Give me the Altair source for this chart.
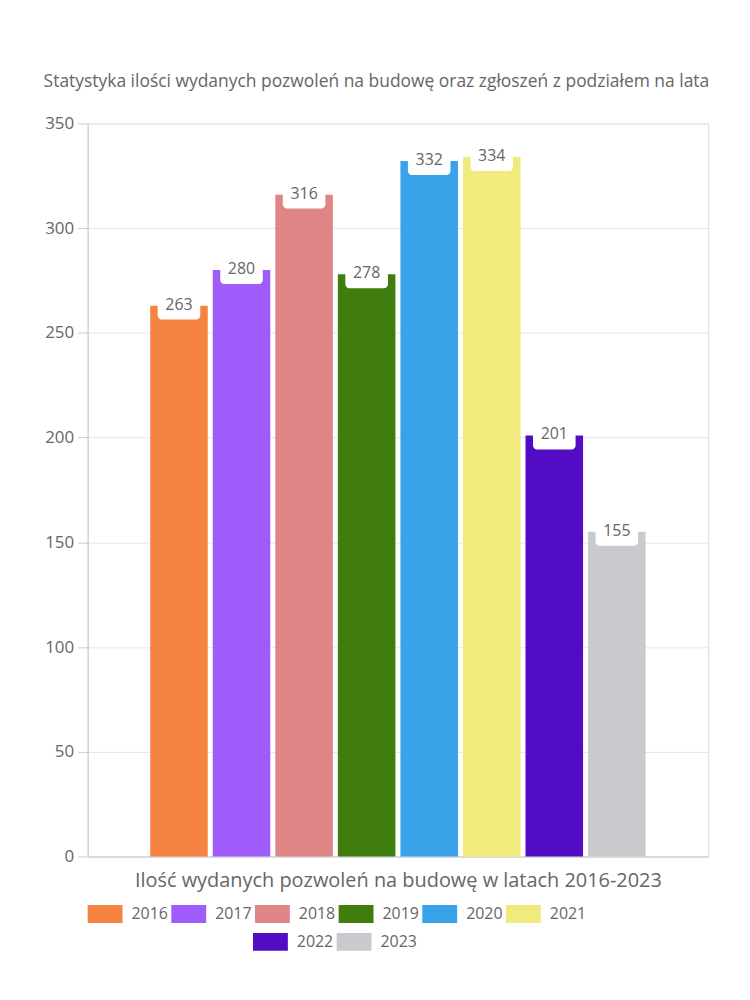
import altair as alt
import pandas as pd

years = ["2016", "2017", "2018", "2019", "2020", "2021", "2022", "2023"]
values = [263, 280, 316, 278, 332, 334, 201, 155]
colors = ["#F58442", "#A05BFB", "#E08585", "#3F7D0F", "#38A3E8", "#F0EB7C", "#520CC4", "#C9CACE"]
y_ticks = [0, 50, 100, 150, 200, 250, 300, 350]

title_text = "Statystyka ilości wydanych pozwoleń na budowę oraz zgłoszeń z podziałem na lata"
x_title = "Ilość wydanych pozwoleń na budowę w latach 2016-2023"

FONT = "Open Sans"
GREY = "#666666"

df = pd.DataFrame({"year": years, "value": values})

base = alt.Chart(df).encode(
    x=alt.X(
        "year:N",
        scale=alt.Scale(domain=years, paddingInner=0.08, paddingOuter=1.0),
        axis=alt.Axis(
            labels=False, ticks=False, title=x_title, titleFontSize=20,
            titleFontWeight="normal", titleColor=GREY, titlePadding=14,
            domainColor="#cccccc", grid=False, titleFont=FONT,
        ),
    ),
    y=alt.Y(
        "value:Q",
        scale=alt.Scale(domain=[0, 350], nice=False),
        axis=alt.Axis(
            values=y_ticks, title=None, labelFontSize=17, labelColor=GREY,
            labelFont=FONT, tickColor="#cccccc", tickSize=10, labelPadding=4,
            domainColor="#cccccc", gridColor="#e6e6e6",
        ),
    ),
)

rect_path = "M-1,-0.514H1V0.514H-1Z"


def legend(x, y, cols):
    return alt.Legend(
        title=None, orient="none", legendX=x, legendY=y, direction="horizontal",
        columns=cols, symbolType=rect_path, symbolSize=1225, symbolStrokeWidth=0,
        symbolOpacity=1, labelFontSize=16, labelColor=GREY, labelFont=FONT,
        labelOffset=9, columnPadding=3, padding=0,
    )


bars1 = base.mark_bar().encode(
    color=alt.Color(
        "year:N",
        scale=alt.Scale(domain=years[:6], range=colors[:6]),
        legend=legend(0, 776, 6),
    )
).transform_filter(alt.FieldOneOfPredicate(field="year", oneOf=years[:6]))

bars2 = base.mark_bar().encode(
    color=alt.Color(
        "year:N",
        scale=alt.Scale(domain=years[6:], range=colors[6:]),
        legend=legend(166, 804, 2),
    )
).transform_filter(alt.FieldOneOfPredicate(field="year", oneOf=years[6:]))

boxes = base.mark_rect(
    color="white", cornerRadius=4, width=alt.RelativeBandSize(0.74),
    yOffset=-12, y2Offset=14,
).encode(y2="value:Q")

labels = base.mark_text(fontSize=16, color=GREY, font=FONT, baseline="middle", dy=-1).encode(
    text="value:Q"
)

chart = (
    alt.layer(bars1, bars2, boxes, labels)
    .resolve_scale(color="independent")
    .properties(
        width=623,
        height=736,
        title=alt.TitleParams(
            title_text, fontSize=17.5, font=FONT, fontWeight="normal", color="#666666",
            anchor="middle", frame="bounds", offset=24,
        ),
        padding={"left": 43, "top": 71, "right": 40, "bottom": 5},
    )
    .configure_view(stroke="#e6e6e6")
    .configure(background="white")
)

chart.save("out.html", embed_options={"renderer": "svg", "actions": False})
